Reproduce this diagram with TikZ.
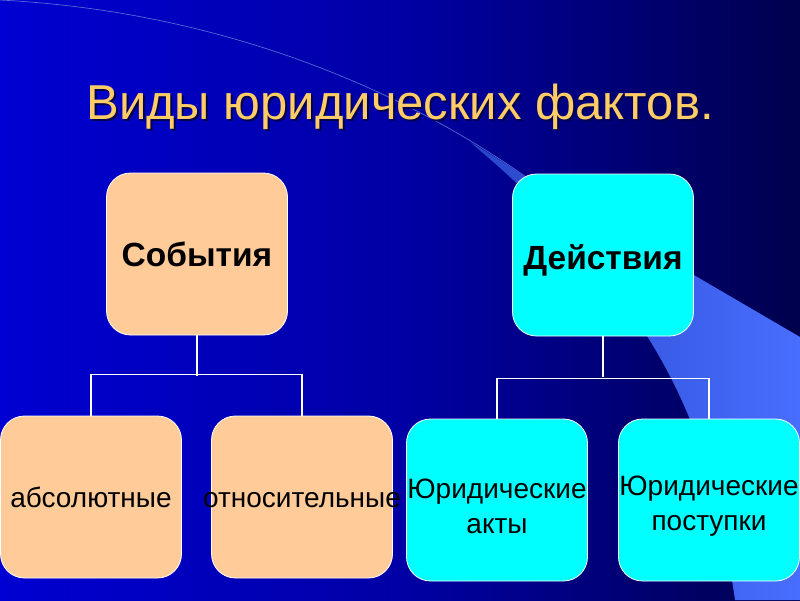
\documentclass[tikz,border=0pt]{standalone}
\usepackage{fontspec}
\setmainfont{Liberation Sans}
\usepackage{tikz}
\usetikzlibrary{calc}
\definecolor{slidegold}{RGB}{255, 204, 102}
\definecolor{evpeach}{RGB}{255, 204, 153}
\definecolor{actcyan}{RGB}{0, 255, 255}
\definecolor{swooshlo}{RGB}{40, 70, 200}
\definecolor{swooshhi}{RGB}{72, 110, 255}
\definecolor{bgmid}{RGB}{0, 0, 165}
\definecolor{bgdeep}{RGB}{0, 0, 60}
\pgfdeclarehorizontalshading{slidebg}{100bp}{color(0bp)=(blue); color(50bp)=(bgmid); color(80bp)=(bgdeep); color(95bp)=(black); color(100bp)=(black)}
\tikzset{
  factbox/.style={draw=white, line width=0.8pt, rounded corners=24pt,
    minimum width=181pt, minimum height=162pt, inner sep=0pt, text=black},
  toplabel/.style={font=\fontsize{33.5}{38}\selectfont\bfseries},
  sublabel/.style={font=\fontsize{28}{35}\selectfont, align=center, inner sep=0pt, text=black},
  tree/.style={draw=white, line width=1.6pt}
}

\begin{document}
\begin{tikzpicture}[x=1pt, y=-1pt]
% background
\shade[shading=slidebg] (0,0) rectangle (800,600);
\useasboundingbox (0,0) rectangle (800,600);
% swoosh
\draw[swooshlo!80!white, line width=0.7pt] (0,0) .. controls (230,12) and (410,95) .. (526,177);
\shade[left color=swooshlo, right color=swooshhi] (470,142) .. controls (500,160) .. (526,177) -- (800,337) -- (800,600) -- (735,600)
  .. controls (712,440) and (670,310) .. (470,142) -- cycle;

% title
\node[font=\fontsize{49}{55}\selectfont, text=black!70!blue] (titleshadow) at (402,109) {Виды юридических фактов.};
\node[font=\fontsize{49}{55}\selectfont, text=slidegold] (title) at (400,107) {Виды юридических фактов.};

% two kinds
\node[factbox, fill=evpeach, toplabel] (sob) at (197,254) {События};
\node[factbox, fill=actcyan, toplabel, text height=36pt] (dei) at (603,255) {Действия};

% subtypes
\node[factbox, fill=evpeach, sublabel] (abs) at (91,497) {абсолютные};
\node[factbox, fill=evpeach, label={[sublabel, yshift=-3pt]center:относительные}] (otn) at (302,497) {};
\node[factbox, fill=actcyan, label={[sublabel, yshift=-6pt]center:{Юридические\\акты}}] (akty) at (497,500) {};
\node[factbox, fill=actcyan, label={[sublabel, yshift=-6pt]center:{Юридические\\поступки}}] (post) at (709,500) {};

% tree lines
\draw[tree] (sob.south) -- ++(0,41);
\draw[tree] (abs.north) -- ++(0,-41) -| (otn.north);
\draw[tree] (dei.south) -- ++(0,41);
\draw[tree] (akty.north) -- ++(0,-40) -| (post.north);
\end{tikzpicture}
\end{document}
